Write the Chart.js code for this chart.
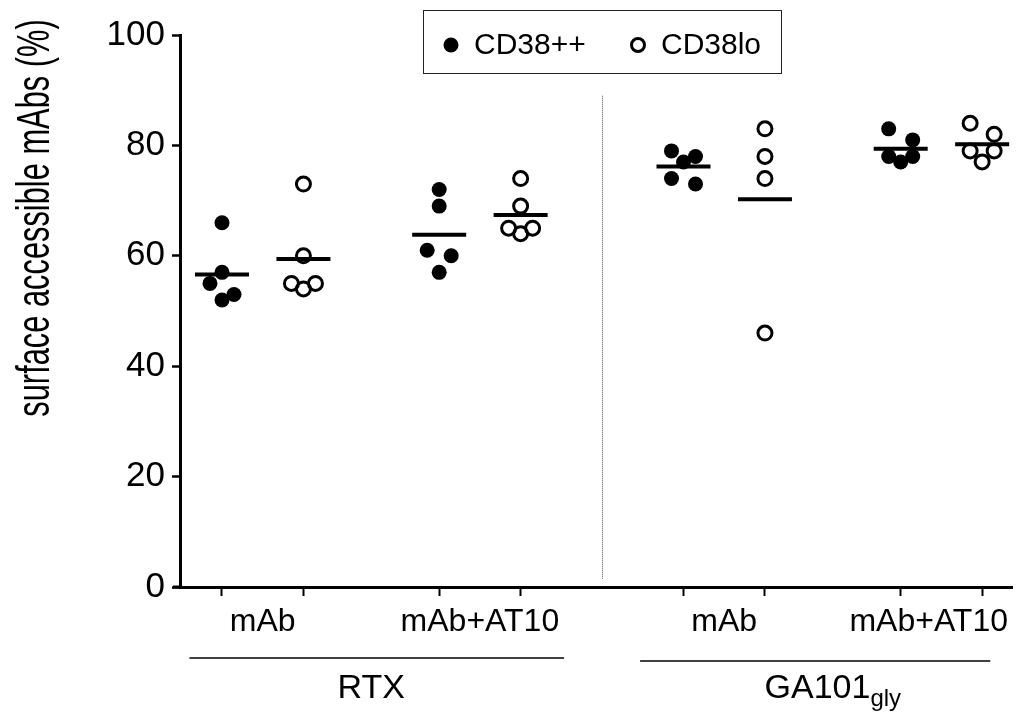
<!DOCTYPE html>
<html>
<head>
<meta charset="utf-8">
<title>surface accessible mAbs</title>
<script src="https://cdn.jsdelivr.net/npm/chart.js@4.4.1/dist/chart.umd.min.js"></script>
<style>
  html, body { margin: 0; padding: 0; background: #fff; }
  #wrap { width: 1018px; height: 716px; }
</style>
</head>
<body>
<div id="wrap"><canvas id="chart" width="1018" height="716"></canvas></div>
<script>
// ==================== 数据 ====================
const groupNames = ['RTX', 'GA101']
const groupSubscripts = ['', 'gly']
const conditions = ['mAb', 'mAb+AT10']
const seriesNames = ['CD38++', 'CD38lo']
const yTicks = [0, 20, 40, 60, 80, 100]
const yTitle = 'surface accessible mAbs (%)'

// one array per column: CD38++ = Hi (filled), CD38lo = Lo (open)
const rtxMabHi = [66, 57, 55, 53, 52]
const rtxMabLo = [73, 60, 55, 55, 54]
const rtxAt10Hi = [72, 69, 61, 60, 57]
const rtxAt10Lo = [74, 69, 65, 65, 64]
const gaMabHi = [79, 78, 77, 74, 73]
const gaMabLo = [83, 78, 74, 46]
const gaAt10Hi = [83, 81, 78, 78, 77]
const gaAt10Lo = [84, 82, 79, 79, 77]

const columnValues = [rtxMabHi, rtxMabLo, rtxAt10Hi, rtxAt10Lo, gaMabHi, gaMabLo, gaAt10Hi, gaAt10Lo]

// ==================== 布局 ====================
const FONT = "'Liberation Sans', Arial, Helvetica, sans-serif"
const X_MIN = -0.047
const X_MAX = 30.6
const JITTER = 12 / 27.14      // sideways step for crowded points, in x units
const CLUSTER_GAP = 2.5        // points closer than this (in %) get spread sideways

// Prism-like column position: pairs of columns, gap between conditions and groups
const colX = (g, c, s) => 1.5 + s * 3 + c * 8 + g * 17

const spreadPattern = { 1: [0], 2: [-1, 1], 3: [-1, 1, 0], 4: [0, -1, 1, 0], 5: [-1, 1, 0, -1, 1] }

function spread(values) {
    const sorted = values.map((v, i) => ({ v, i })).sort((a, b) => b.v - a.v)
    const out = new Array(values.length).fill(0)
    let cluster = []
    const flush = () => {
        const pat = spreadPattern[cluster.length] || cluster.map((_, k) => (k % 3 === 2 ? 0 : (k % 3 === 0 ? -1 : 1)))
        cluster.forEach((p, k) => { out[p.i] = pat[k] })
        cluster = []
    }
    sorted.forEach(p => {
        if (cluster.length && cluster[cluster.length - 1].v - p.v >= CLUSTER_GAP) flush()
        cluster.push(p)
    })
    flush()
    return out
}

const mean = arr => arr.reduce((a, b) => a + b, 0) / arr.length

const columns = columnValues.map((values, i) => ({
    g: i >> 2, c: (i >> 1) & 1, s: i & 1, values
}))
columns.forEach(col => { col.x = colX(col.g, col.c, col.s) })

const pointsFor = s => columns.filter(col => col.s === s).flatMap(col => {
    const off = spread(col.values)
    return col.values.map((v, k) => ({ x: col.x + off[k] * JITTER, y: v }))
})

const meanPoints = columns.map(col => ({ x: col.x, y: mean(col.values) }))

// ==================== 装饰插件 ====================
const figureDecor = {
    id: 'figureDecor',
    afterDraw(chart, args, opts) {
        const { ctx, chartArea, scales: { x, y } } = chart
        ctx.save()

        // dotted separator between the two antibodies
        ctx.strokeStyle = '#555'
        ctx.lineWidth = 1
        ctx.setLineDash([1, 1])
        const dx = Math.round(x.getPixelForValue(opts.dividerAt)) + 0.5
        ctx.beginPath()
        ctx.moveTo(dx, y.getPixelForValue(opts.dividerRange[1]))
        ctx.lineTo(dx, y.getPixelForValue(opts.dividerRange[0]))
        ctx.stroke()
        ctx.setLineDash([])

        // short extension of the x axis left of the y axis
        ctx.strokeStyle = '#000'
        ctx.lineWidth = 3
        ctx.beginPath()
        ctx.moveTo(chartArea.left - 7, chartArea.bottom)
        ctx.lineTo(chartArea.left, chartArea.bottom)
        ctx.stroke()

        // condition labels under each column pair, kept inside the canvas
        ctx.fillStyle = '#000'
        ctx.textAlign = 'center'
        ctx.textBaseline = 'alphabetic'
        ctx.font = `32px ${FONT}`
        groupNames.forEach((_, g) => {
            conditions.forEach((label, c) => {
                let cx = x.getPixelForValue((colX(g, c, 0) + colX(g, c, 1)) / 2)
                const half = ctx.measureText(label).width / 2
                cx = Math.min(cx, chart.width - 10 - half)
                ctx.fillText(label, cx, chartArea.bottom + 44)
            })
        })

        // group brackets and names
        groupNames.forEach((name, g) => {
            const [x0, x1, dy] = opts.brackets[g]
            ctx.lineWidth = 1.5
            ctx.beginPath()
            ctx.moveTo(x.getPixelForValue(x0), chartArea.bottom + dy)
            ctx.lineTo(x.getPixelForValue(x1), chartArea.bottom + dy)
            ctx.stroke()

            const cx = x.getPixelForValue((colX(g, 0, 0) + colX(g, 1, 1)) / 2)
            const by = chartArea.bottom + 111
            const sub = groupSubscripts[g]
            ctx.font = `34px ${FONT}`
            const wMain = ctx.measureText(name).width
            ctx.font = `24px ${FONT}`
            const wSub = sub ? ctx.measureText(sub).width : 0
            const left = cx - (wMain + wSub) / 2
            ctx.textAlign = 'left'
            ctx.font = `34px ${FONT}`
            ctx.fillText(name, left, by)
            if (sub) {
                ctx.font = `24px ${FONT}`
                ctx.fillText(sub, left + wMain, by + 8)
            }
        })

        // legend box
        const lb = opts.legendBox
        ctx.lineWidth = 1
        ctx.strokeStyle = '#222'
        ctx.strokeRect(lb.x + 0.5, lb.y + 0.5, lb.w, lb.h)
        const ly = lb.y + 35
        ctx.font = `30px ${FONT}`
        ctx.textBaseline = 'middle'
        ctx.textAlign = 'left'
        seriesNames.forEach((name, s) => {
            const ds = chart.data.datasets[s + 1]
            const sx = lb.x + opts.legendItems[s]
            ctx.beginPath()
            if (s === 0) {
                ctx.fillStyle = '#000'
                ctx.arc(sx, ly, ds.pointRadius, 0, Math.PI * 2)
                ctx.fill()
            } else {
                ctx.strokeStyle = '#000'
                ctx.lineWidth = ds.pointBorderWidth
                ctx.arc(sx, ly, ds.pointRadius - 0.5, 0, Math.PI * 2)
                ctx.stroke()
            }
            ctx.fillStyle = '#000'
            ctx.fillText(name, sx + 23, ly + 1)
        })

        // y title, condensed like the original
        ctx.translate(49, 218)
        ctx.rotate(-Math.PI / 2)
        ctx.scale(0.67, 1)
        ctx.textAlign = 'center'
        ctx.textBaseline = 'alphabetic'
        ctx.font = `46px ${FONT}`
        ctx.fillText(yTitle, 0, 0)

        ctx.restore()
    }
}

// ==================== 图表 ====================
new Chart(document.getElementById('chart'), {
    type: 'scatter',
    data: {
        datasets: [
            {
                label: 'mean',
                data: meanPoints,
                pointStyle: 'line',
                pointRadius: 27,
                pointBorderWidth: 4,
                pointBorderColor: '#000',
                order: 0
            },
            {
                label: seriesNames[0],
                data: pointsFor(0),
                pointStyle: 'circle',
                pointRadius: 7.5,
                pointBorderWidth: 0,
                pointBackgroundColor: '#000',
                pointBorderColor: '#000',
                order: 1
            },
            {
                label: seriesNames[1],
                data: pointsFor(1),
                pointStyle: 'circle',
                pointRadius: 7,
                pointBorderWidth: 3,
                pointBackgroundColor: 'rgba(0,0,0,0)',
                pointBorderColor: '#000',
                order: 1
            }
        ]
    },
    options: {
        responsive: false,
        animation: false,
        events: [],
        layout: { autoPadding: false, padding: { top: 35, right: 6, bottom: 0, left: 0 } },
        plugins: {
            legend: { display: false },
            tooltip: { enabled: false },
            figureDecor: {
                dividerAt: 15.5,
                dividerRange: [1.5, 89],
                brackets: [[0.3, 14.1, 71], [16.9, 29.8, 74]],
                legendBox: { x: 423, y: 10, w: 358, h: 63 },
                legendItems: [28, 215]
            }
        },
        scales: {
            x: {
                type: 'linear',
                min: X_MIN,
                max: X_MAX,
                afterBuildTicks: scale => { scale.ticks = columns.map(col => ({ value: col.x })) },
                afterFit: scale => { scale.height = 129 },
                ticks: { display: false },
                grid: { drawOnChartArea: false, drawTicks: true, tickLength: 9, tickWidth: 2, tickColor: '#000', color: '#000' },
                border: { display: true, color: '#000', width: 3 }
            },
            y: {
                min: 0,
                max: 100,
                afterBuildTicks: scale => { scale.ticks = yTicks.map(v => ({ value: v })) },
                afterFit: scale => { scale.width = 180 },
                ticks: { color: '#000', padding: 7, font: { family: FONT, size: 35 } },
                grid: { drawOnChartArea: false, drawTicks: true, tickLength: 8, tickWidth: 2.5, tickColor: '#000', color: '#000' },
                border: { display: true, color: '#000', width: 3 }
            }
        }
    },
    plugins: [figureDecor]
})
</script>
</body>
</html>
